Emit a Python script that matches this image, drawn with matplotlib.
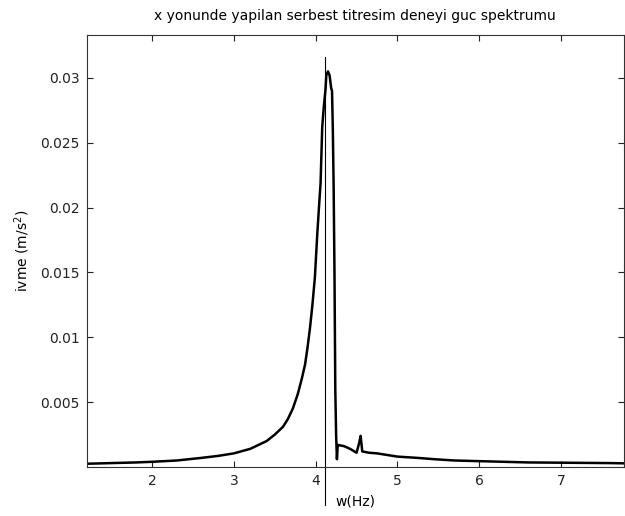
import matplotlib
matplotlib.use("Agg")
import matplotlib.pyplot as plt

plt.rcParams['font.family'] = ['DejaVu Sans']

freq = [1.2, 1.5, 1.8, 2.0, 2.3, 2.6, 2.8, 3.0, 3.2, 3.3, 3.4, 3.5, 3.6, 3.66,
        3.72, 3.78, 3.83, 3.87, 3.9, 3.93, 3.96, 3.99, 4.02, 4.04, 4.06, 4.08,
        4.10, 4.12, 4.13, 4.15, 4.17, 4.19, 4.20, 4.21, 4.22, 4.23, 4.24, 4.25, 4.26, 4.27,
        4.35, 4.42, 4.50, 4.53, 4.55, 4.57, 4.65, 4.75, 4.9, 5.0, 5.25, 5.45,
        5.7, 6.0, 6.6, 7.0, 7.6, 7.78]
accel = [0.00025, 0.0003, 0.00035, 0.0004, 0.0005, 0.0007, 0.00085, 0.00105,
         0.0014, 0.0017, 0.0020, 0.0025, 0.0031, 0.0037, 0.0045, 0.0056, 0.0068,
         0.0079, 0.0092, 0.0107, 0.0125, 0.0146, 0.018, 0.020, 0.0219, 0.0262,
         0.0278, 0.0291, 0.0302, 0.0305, 0.0302, 0.0292, 0.029, 0.026, 0.0215, 0.015, 0.006,
         0.0025, 0.0006, 0.0017, 0.0016, 0.0014, 0.0011, 0.0018, 0.0024, 0.0012,
         0.0011, 0.00105, 0.0009, 0.0008, 0.0007, 0.0006, 0.0005, 0.00045,
         0.00035, 0.00033, 0.0003, 0.00028]

marker_x = 4.12
marker_y = [-0.0029, 0.0316]

xticks = [2, 3, 4, 5, 6, 7]
yticks = [0.005, 0.01, 0.015, 0.02, 0.025, 0.03]
ytick_labels = ['0.005', '0.01', '0.015', '0.02', '0.025', '0.03']

fig = plt.figure(figsize=(6.25, 5.16), dpi=100)
ax = fig.add_axes([0.139, 0.095, 0.859, 0.837])

ax.plot(freq, accel, color='black', linewidth=1.8)
ax.plot([marker_x, marker_x], marker_y, color='black', linewidth=0.8, clip_on=False)

ax.set_xlim(1.2, 7.77)
ax.set_ylim(0, 0.0333)
ax.set_xticks(xticks)
ax.set_xticklabels([str(t) for t in xticks])
ax.set_yticks(yticks)
ax.set_yticklabels(ytick_labels)
ax.tick_params(direction='in', top=True, right=True, length=4, width=0.8,
               labelsize=10, colors='#222222', pad=5)
for s in ax.spines.values():
    s.set_color('#333333')
    s.set_linewidth(0.8)

ax.set_title('x yonunde yapilan serbest titresim deneyi guc spektrumu',
             fontsize=10, pad=11)
ax.set_xlabel('w(Hz)', fontsize=10, labelpad=5)
ax.set_ylabel('ivme (m/s$^2$)', fontsize=10, labelpad=6)

fig.savefig('out.png', dpi=100)
